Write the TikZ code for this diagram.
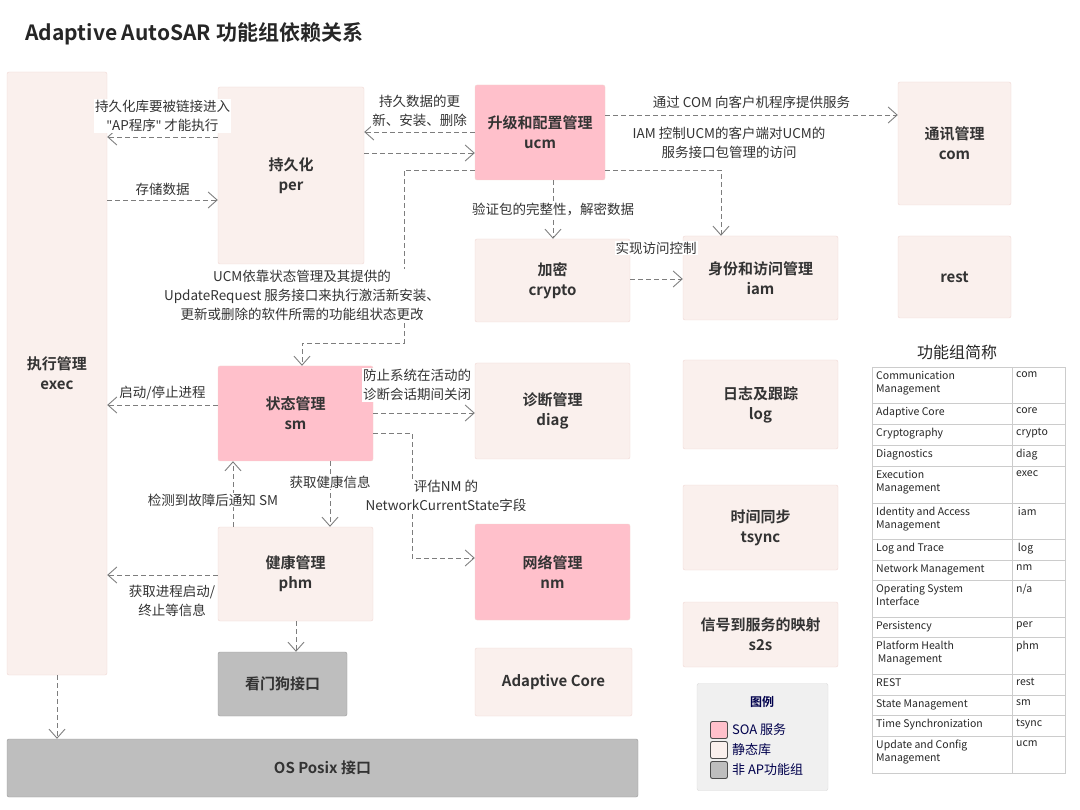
\documentclass[tikz,border=0pt]{standalone}
\usepackage{fontspec}
\setmainfont{Noto Sans CJK SC}[BoldFont={Noto Sans CJK SC Bold}]
\newfontfamily\latinfont{Noto Sans}
\usetikzlibrary{arrows.meta,positioning}
\definecolor{soa}{RGB}{255,192,203}
\definecolor{lib}{RGB}{250,240,237}
\definecolor{nonap}{RGB}{190,190,190}
\definecolor{edge}{RGB}{240,215,210}
\definecolor{link}{RGB}{125,125,125}
\tikzset{
  gbox/.style={draw=edge, rounded corners=2pt, font=\fontsize{15}{20}\selectfont\bfseries, text=black!80, align=center, inner sep=0pt},
  soabox/.style={gbox, fill=soa},
  libbox/.style={gbox, fill=lib},
  osbox/.style={gbox, draw=nonap!80!black, fill=nonap},
  dep/.style={draw=link, dash pattern=on 5pt off 3pt, line width=0.9pt, -{Straight Barb[length=9pt,width=16pt,line width=0.9pt]}},
  lbl/.style={font=\fontsize{13.5}{19}\selectfont, text=black!80, align=center, inner sep=1pt, fill=white},
  celltext/.style={anchor=north west, font=\fontsize{10.5}{13}\selectfont, text=black!85, align=left, inner sep=0pt}
}
\begin{document}
\begin{tikzpicture}[x=1pt,y=-1pt]
\useasboundingbox (0,0) rectangle (1080,810);
\node[anchor=west, font=\fontsize{21}{25}\selectfont\bfseries, text=black!85] (title) at (22,34) {Adaptive AutoSAR 功能组依赖关系};

% functional groups
\node[libbox, minimum width=100, minimum height=603] (exec) at (57,373.5) {执行管理\\exec};
\node[libbox, minimum width=146, minimum height=177] (per) at (291,175.5) {持久化\\per};
\node[soabox, minimum width=130, minimum height=95] (ucm) at (540,132.5) {升级和配置管理\\ucm};
\node[libbox, minimum width=113, minimum height=123] (com) at (954.5,143.5) {通讯管理\\com};
\node[libbox, minimum width=155, minimum height=83] (crypto) at (552.5,280.5) {加密\\crypto};
\node[libbox, minimum width=155, minimum height=84] (iam) at (760.5,278) {身份和访问管理\\iam};
\node[libbox, minimum width=113, minimum height=82] (rest) at (954.5,277) {rest};
\node[soabox, minimum width=155, minimum height=95] (sm) at (295.5,413.5) {状态管理\\sm};
\node[libbox, minimum width=155, minimum height=96] (diag) at (552.5,411) {诊断管理\\diag};
\node[libbox, minimum width=155, minimum height=89] (log) at (760.5,404.5) {日志及跟踪\\log};
\node[libbox, minimum width=155, minimum height=94] (phm) at (295.5,574) {健康管理\\phm};
\node[soabox, minimum width=155, minimum height=96] (nm) at (552.5,572) {网络管理\\nm};
\node[libbox, minimum width=155, minimum height=85] (tsync) at (760.5,527.5) {时间同步\\tsync};
\node[libbox, minimum width=155, minimum height=65] (s2s) at (760.5,634.5) {信号到服务的映射\\s2s};
\node[osbox, minimum width=129, minimum height=64] (wdg) at (282.5,684) {看门狗接口};
\node[libbox, minimum width=157, minimum height=68] (core) at (553.5,682) {Adaptive Core};
\node[osbox, minimum width=631, minimum height=58] (os) at (322.5,768) {OS Posix 接口};

% dependencies
\draw[dep] (per.west |- 0,137) -- (exec.east |- 0,137)
  node[lbl, midway, above=4pt] {持久化库要被链接进入\\{\latinfont\symbol{34}}AP程序{\latinfont\symbol{34}} 才能执行};
\draw[dep] (exec.east |- 0,200) -- (per.west |- 0,200)
  node[lbl, midway, above=3pt] {存储数据};
\draw[dep] (ucm.west |- 0,132) -- (per.east |- 0,132)
  node[lbl, midway, above=4pt] {持久数据的更\\新、安装、删除};
\draw[dep] (per.east |- 0,153) -- (ucm.west |- 0,153);
\draw[dep] (ucm.east |- 0,115) -- (com.west |- 0,115)
  node[lbl, midway, above=5pt] {通过 COM 向客户机程序提供服务};
\draw[dep] (ucm.south -| 553,0) -- (crypto.north -| 553,0)
  node[lbl, midway] {验证包的完整性，解密数据};
\draw[dep] (ucm.east |- 0,170) -| (iam.north -| 721,0);
\node[lbl] (iamlbl) at (729,143) {IAM 控制UCM的客户端对UCM的\\服务接口包管理的访问};
\draw[dep] (ucm.west |- 0,170) -| (404,343) -| (sm.north -| 302,0);
\node[lbl] (smlbl) at (302,295) {UCM依靠状态管理及其提供的\\UpdateRequest 服务接口来执行激活新安装、\\更新或删除的软件所需的功能组状态更改};
\draw[dep] (crypto.east |- 0,279) -- (iam.west |- 0,279);
\node[lbl] (acclbl) at (656,248) {实现访问控制};
\draw[dep] (sm.west |- 0,405) -- (exec.east |- 0,405)
  node[lbl, midway, above=4pt] {启动/停止进程};
\draw[dep] (sm.east |- 0,413) -- (diag.west |- 0,413);
\node[lbl] (diaglbl) at (417,385) {防止系统在活动的\\诊断会话期间关闭};
\draw[dep] (sm.east |- 0,433) -| (412,558) -- (nm.west |- 0,558);
\node[lbl] (nmlbl) at (446,496) {评估NM 的\\NetworkCurrentState字段};
\draw[dep] (sm.south -| 330,0) -- (phm.north -| 330,0);
\node[lbl] (hlbl) at (330,482) {获取健康信息};
\draw[dep] (phm.north -| 233,0) -- (sm.south -| 233,0);
\node[lbl] (flbl) at (213,500) {检测到故障后通知 SM};
\draw[dep] (phm.west |- 0,575) -- (exec.east |- 0,575);
\node[lbl] (plbl) at (172,601) {获取进程启动/\\终止等信息};
\draw[dep] (phm.south -| 296,0) -- (wdg.north -| 296,0);
\draw[dep] (exec.south) -- (os.north -| exec.south);

% legend
\node[draw=black!15, fill=black!6, rounded corners=2pt, minimum width=131, minimum height=107] (legend) at (762.5,737) {};
\node[font=\fontsize{12}{14}\selectfont\bfseries, text=blue!30!black] (legtitle) at (762,702) {图例};
\foreach \c/\t [count=\i] in {soa/SOA 服务, lib/静态库, nonap/非 AP功能组} {
  \node[draw=black!70, fill=\c, rounded corners=2pt, minimum size=17, inner sep=0pt, line width=0.9pt] (leg\i) at (719,710+20*\i) {};
  \node[right=4pt of leg\i, inner sep=0pt, font=\fontsize{13}{15}\selectfont, text=blue!30!black] {\t};
}

% abbreviations
\node[font=\fontsize{16}{19}\selectfont, text=black!85] (tabtitle) at (957,352) {功能组简称};
\foreach \n/\a/\y/\h in {
  {Communication\\Management}/com/367/36, {Adaptive Core}/core/403/21,
  {Cryptography}/crypto/424/21, {Diagnostics}/diag/445/21,
  {Execution\\Management}/exec/466/37, {Identity and Access\\Management}/{\,iam}/503/36,
  {Log and Trace}/{\,log}/539/21, {Network Management}/nm/560/20,
  {Operating System\\Interface}/{n/a}/580/37, {Persistency}/per/617/20,
  {Platform Health\\\,Management}/phm/637/37, {REST}/rest/674/21,
  {State Management}/sm/695/20, {Time Synchronization}/tsync/715/21,
  {Update and Config\\Management}/ucm/736/37} {
  \draw[black!20] (872,\y) rectangle ++(140,\h) (1012,\y) rectangle ++(53,\h);
  \node[celltext] at (876,\y+4) {\n};
  \node[celltext] at (1016,\y+4) {\a};
}
\end{tikzpicture}
\end{document}
